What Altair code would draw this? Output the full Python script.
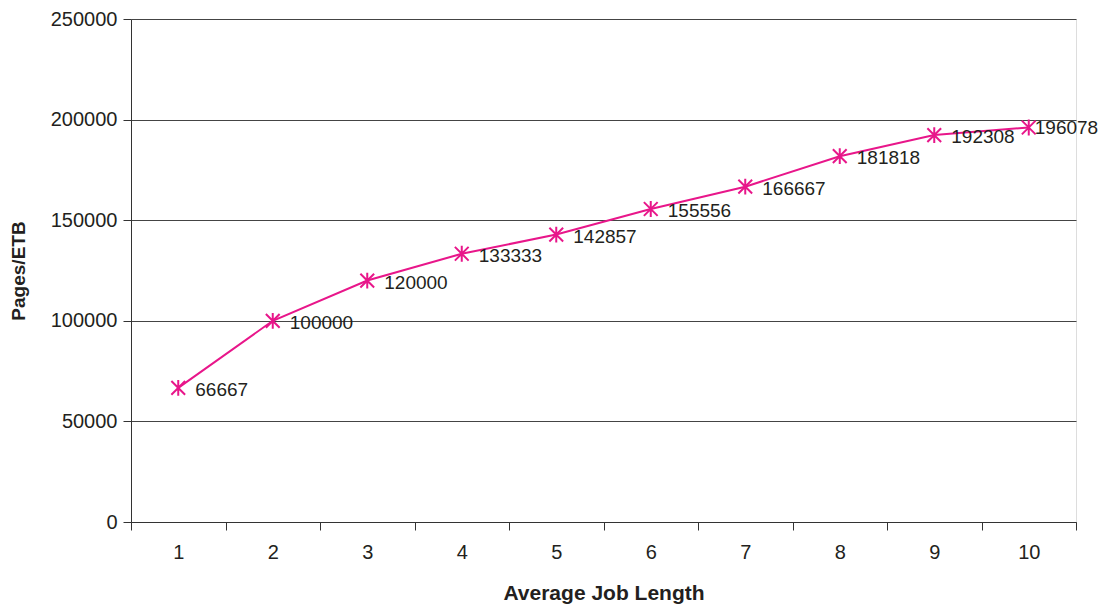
import altair as alt
import pandas as pd

job_length = ["1", "2", "3", "4", "5", "6", "7", "8", "9", "10"]
pages_etb = [66667, 100000, 120000, 133333, 142857, 155556, 166667, 181818, 192308, 196078]

df = pd.DataFrame({"job": job_length, "pages": pages_etb, "label": [str(v) for v in pages_etb]})

FONT = "Liberation Sans"
COLOR = "#E8168A"
ASTERISK = "M0,-1L0,1M-0.87,-0.87L0.87,0.87M-0.87,0.87L0.87,-0.87"

x_enc = alt.X("job:O", sort=job_length, title="Average Job Length",
              scale=alt.Scale(paddingInner=0, paddingOuter=0),
              axis=alt.Axis(labelAngle=0, tickBand="extent", tickSize=8, labelPadding=12,
                            titlePadding=20, grid=False, domainColor="#333", tickColor="#333",
                            labelFontSize=20, titleFontSize=21, labelColor="#231f20",
                            titleColor="#231f20", labelFont=FONT, titleFont=FONT,
                            titleFontWeight="bold"))
y_enc = alt.Y("pages:Q", title="Pages/ETB",
              scale=alt.Scale(domain=[0, 250000], nice=False, zero=True),
              axis=alt.Axis(values=[0, 50000, 100000, 150000, 200000, 250000], format="d",
                            tickSize=8, labelPadding=6, titlePadding=22, grid=True,
                            gridColor="#444", gridWidth=1, domainColor="#333", tickColor="#333",
                            labelFontSize=20, titleFontSize=19, labelColor="#231f20",
                            titleColor="#231f20", labelFont=FONT, titleFont=FONT,
                            titleFontWeight="bold"))

base = alt.Chart(df).encode(x=x_enc, y=y_enc)
line = base.mark_line(color=COLOR, strokeWidth=2)
pts = base.mark_point(shape=ASTERISK, size=250, filled=False, color=COLOR, strokeWidth=2,
                      opacity=1)
labels = base.transform_filter(alt.datum.job != "10").mark_text(
    align="left", baseline="middle", dx=17, dy=2, fontSize=19, font=FONT, color="#231f20"
).encode(text="label:N")
last = base.transform_filter(alt.datum.job == "10").mark_text(
    align="left", baseline="middle", dx=6, dy=1, fontSize=19, font=FONT, color="#231f20"
).encode(text="label:N")

chart = alt.layer(line, pts, labels, last).properties(
    width=945, height=503,
    autosize=alt.AutoSizeParams(type="none"),
    padding={"left": 123, "top": 11, "right": 22, "bottom": 85},
).configure_view(stroke="#333", strokeWidth=1).configure(background="white")

chart.save("out.html", embed_options={"renderer": "svg", "actions": False})
